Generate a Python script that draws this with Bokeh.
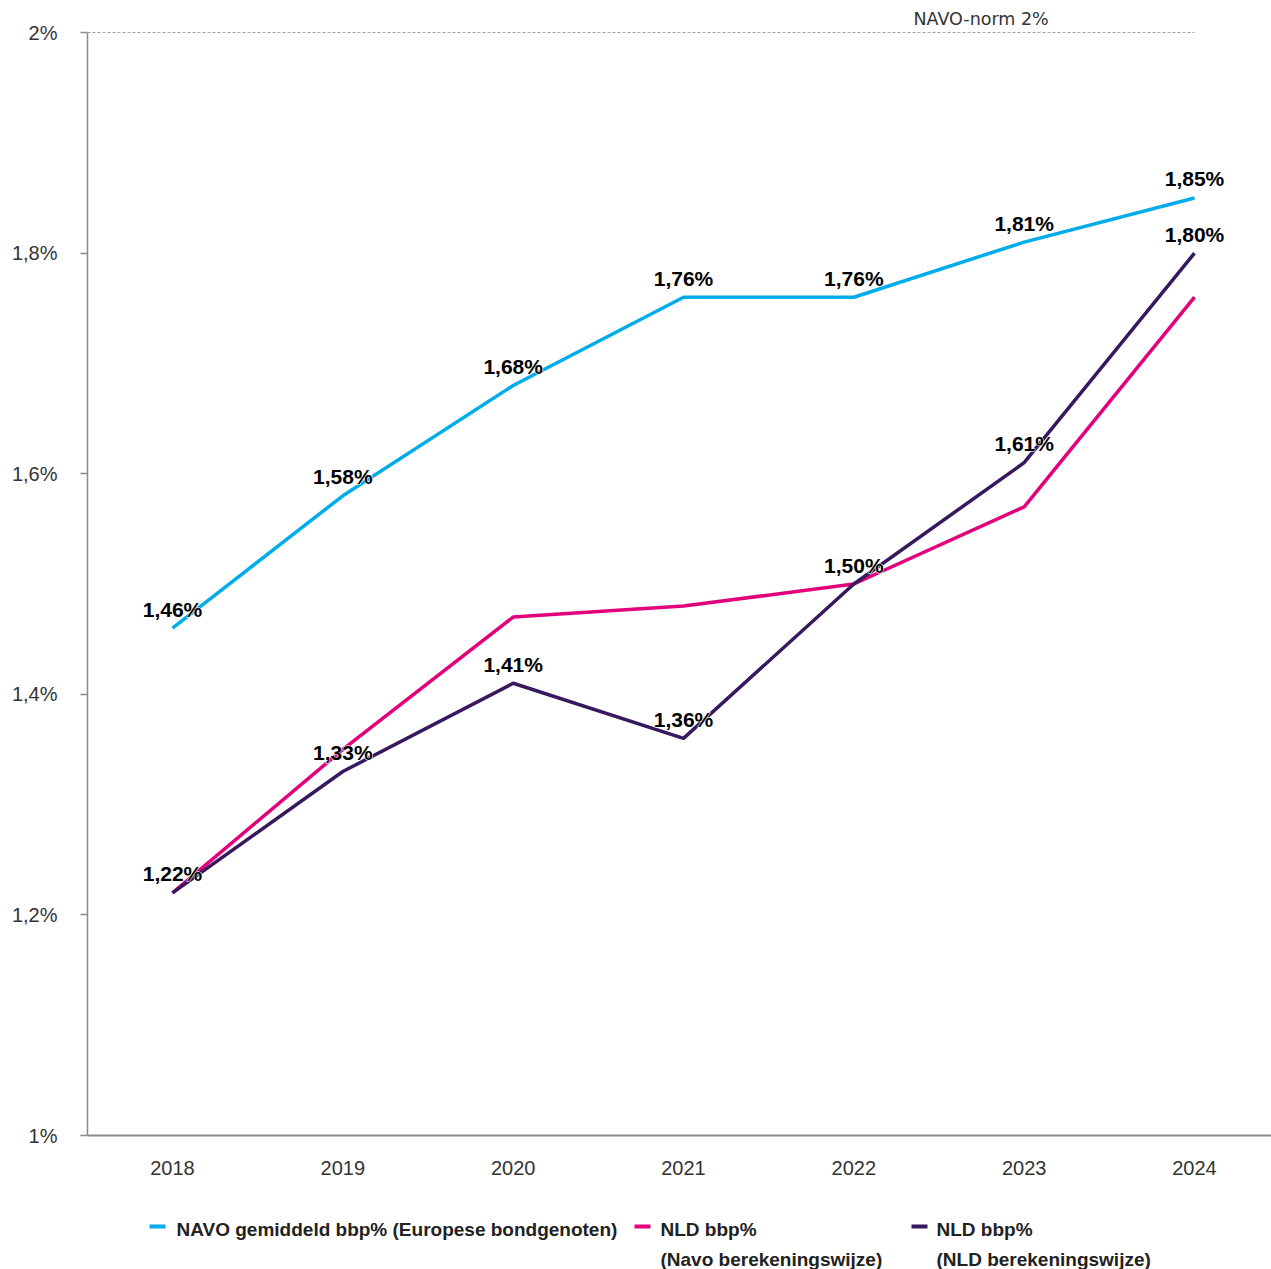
from bokeh.plotting import figure
from bokeh.layouts import column
from bokeh.models import ColumnDataSource, Range1d, FixedTicker, Title
from bokeh.core.properties import value
from bokeh.embed import file_html
from bokeh.resources import INLINE

years = [2018, 2019, 2020, 2021, 2022, 2023, 2024]
navo_avg = [1.46, 1.58, 1.68, 1.76, 1.76, 1.81, 1.85]
nld_navo_method = [1.22, 1.35, 1.47, 1.48, 1.50, 1.57, 1.76]
nld_nld_method = [1.22, 1.33, 1.41, 1.36, 1.50, 1.61, 1.80]
y_ticks = [1.0, 1.2, 1.4, 1.6, 1.8, 2.0]
y_tick_labels = ["1%", "1,2%", "1,4%", "1,6%", "1,8%", "2%"]
norm_value = 2.0
norm_label = "NAVO-norm 2%"
series_names = ["NAVO gemiddeld bbp% (Europese bondgenoten)",
                "NLD bbp%\n(Navo berekeningswijze)",
                "NLD bbp%\n(NLD berekeningswijze)"]

BLUE = "#00ADEA"
PINK = "#E3007B"
PURPLE = "#36195E"
COLORS = [BLUE, PINK, PURPLE]
FONT = "Liberation Sans"

def fmt(v):
    return f"{v:.2f}".replace(".", ",") + "%"

W = 1271
MAIN_H = 1190
LEG_H = 79
LEFT = 87

p = figure(width=W, height=MAIN_H, output_backend="svg", toolbar_location=None,
           x_range=Range1d(2017.501, 2024.452), y_range=Range1d(1.0, 2.0),
           min_border_left=LEFT, min_border_right=0, min_border_top=32, min_border_bottom=55)
p.outline_line_color = None
p.xgrid.visible = False
p.ygrid.visible = False
p.background_fill_color = "white"

# axes
p.yaxis.ticker = FixedTicker(ticks=y_ticks)
p.yaxis.major_label_overrides = {t: l for t, l in zip(y_ticks, y_tick_labels)}
p.yaxis.axis_line_color = "#8a8a8a"
p.yaxis.axis_line_width = 1.5
p.yaxis.major_tick_line_color = "#8a8a8a"
p.yaxis.major_tick_line_width = 1.5
p.yaxis.major_tick_out = 7
p.yaxis.major_tick_in = 0
p.yaxis.minor_tick_line_color = None
p.yaxis.major_label_standoff = 23
p.yaxis.major_label_text_font = FONT
p.yaxis.major_label_text_font_size = "20px"
p.yaxis.major_label_text_color = "#333333"

p.xaxis.ticker = FixedTicker(ticks=years)
p.xaxis.major_label_overrides = {y: str(y) for y in years}
p.xaxis.axis_line_color = "#8a8a8a"
p.xaxis.axis_line_width = 2
p.xaxis.major_tick_line_color = None
p.xaxis.minor_tick_line_color = None
p.xaxis.major_label_standoff = 19
p.xaxis.major_label_text_font = FONT
p.xaxis.major_label_text_font_size = "20px"
p.xaxis.major_label_text_color = "#333333"

# norm line + its caption
p.segment(x0=[p.x_range.start], x1=[years[-1]], y0=[norm_value], y1=[norm_value],
          line_color="#444444", line_width=1, line_dash="3 2")
p.add_layout(Title(text=norm_label, align="left", offset=826, standoff=7,
                   text_font="DejaVu Sans", text_font_style="normal", text_font_size="17.5px",
                   text_color="#333333"), "above")

# lines
p.line(years, navo_avg, line_color=BLUE, line_width=3.5)
p.line(years, nld_navo_method, line_color=PINK, line_width=3.5)
p.line(years, nld_nld_method, line_color=PURPLE, line_width=3.5)

# data labels (white halo underneath, black text on top)
lab_x = years + years
lab_y = navo_avg + nld_nld_method
lab_t = [fmt(v) for v in lab_y]
src = ColumnDataSource(dict(x=lab_x, y=lab_y, t=lab_t))
label_style = dict(text_align="center", text_baseline="middle", y_offset=-19,
                   text_font=value(FONT), text_font_style="bold", text_font_size="21px")
p.text(x="x", y="y", text="t", source=src, text_color="white",
       text_outline_color="white", **label_style)
p.text(x="x", y="y", text="t", source=src, text_color="black", **label_style)

# legend strip (separate figure in page-pixel coordinates, y downward)
leg = figure(width=W, height=LEG_H, output_backend="svg", toolbar_location=None,
             x_range=Range1d(LEFT, W), y_range=Range1d(LEG_H, 0),
             x_axis_type=None, y_axis_type=None,
             min_border_left=LEFT, min_border_right=0, min_border_top=0, min_border_bottom=0)
leg.outline_line_color = None
leg.xgrid.visible = False
leg.ygrid.visible = False

swatch_x = [149, 634, 911]
text_x = [176, 660, 936]
leg.segment(x0=swatch_x, x1=[s + 16 for s in swatch_x], y0=[36] * 3, y1=[36] * 3,
            line_color=COLORS, line_width=4)
lt_x, lt_y, lt_t = [], [], []
for tx, name in zip(text_x, series_names):
    for i, line in enumerate(name.split("\n")):
        lt_x.append(tx)
        lt_y.append(39 + 30 * i)
        lt_t.append(line)
leg.text(x=lt_x, y=lt_y, text=lt_t, text_align="left", text_baseline="middle",
         text_font=value(FONT), text_font_style="bold", text_font_size="19px",
         text_color="#222222")

layout = column(p, leg, spacing=0)
open("out.html", "w").write(file_html(layout, INLINE))
